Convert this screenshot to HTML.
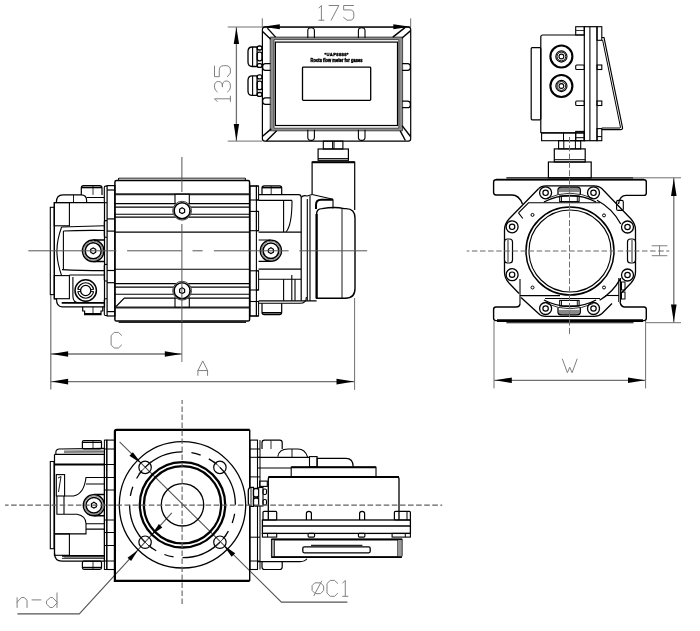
<!DOCTYPE html>
<html><head><meta charset="utf-8"><title>Roots flow meter drawing</title>
<style>html,body{margin:0;padding:0;background:#fff;width:700px;height:631px;overflow:hidden}svg{display:block}</style>
</head><body><svg width="700" height="631" viewBox="0 0 700 631"><line x1="262.3" y1="18.3" x2="262.3" y2="27" stroke="#707070" stroke-width="1" /><line x1="410.7" y1="18.3" x2="410.7" y2="27" stroke="#707070" stroke-width="1" /><line x1="262.3" y1="26.8" x2="410.7" y2="26.8" stroke="#707070" stroke-width="1.3" /><path d="M262.8,26.8 L279.8,29.3 L279.8,24.3 Z" fill="#000" stroke="none"/><path d="M410.3,26.8 L393.3,24.3 L393.3,29.3 Z" fill="#000" stroke="none"/><g transform="translate(316.5,5.5) scale(0.98)" fill="none" stroke="#808080" stroke-width="1.0" stroke-linecap="round" stroke-linejoin="round" style="vector-effect:non-scaling-stroke"><path transform="translate(0,0)" d="M2.5,2.5 L5,0 L5,15 M2.5,15 L7.5,15" vector-effect="non-scaling-stroke"/><path transform="translate(12.8,0)" d="M0,0 L10,0 L2.2,15" vector-effect="non-scaling-stroke"/><path transform="translate(27.7,0)" d="M10,0 L0,0 L0,4.5 L6.2,4.5 Q10.4,4.5 10.4,8.7 L10.4,10.8 Q10.4,15 6.2,15 L3.5,15 L0,12.2" vector-effect="non-scaling-stroke"/></g><line x1="227.7" y1="27" x2="262.3" y2="27" stroke="#707070" stroke-width="1" /><line x1="227.7" y1="141.1" x2="262.3" y2="141.1" stroke="#707070" stroke-width="1" /><line x1="236.4" y1="27" x2="236.4" y2="141.1" stroke="#707070" stroke-width="1.3" /><path d="M236.4,27.4 L233.7,44 L239.1,44 Z" fill="#000" stroke="none"/><path d="M236.4,140.7 L239.1,124.1 L233.7,124.1 Z" fill="#000" stroke="none"/><g transform="translate(214.5,104.1) rotate(-90) scale(1.06)" fill="none" stroke="#808080" stroke-width="1.0" stroke-linecap="round" stroke-linejoin="round" style="vector-effect:non-scaling-stroke"><path transform="translate(0,0)" d="M2.5,2.5 L5,0 L5,15 M2.5,15 L7.5,15" vector-effect="non-scaling-stroke"/><path transform="translate(11.5,0)" d="M0,2.6 Q1.5,0 4.5,0 L5.8,0 Q9.8,0 9.8,3.8 Q9.8,7.4 5.6,7.4 L4.8,7.4 M5.6,7.4 Q10.3,7.4 10.3,11.2 Q10.3,15 5.8,15 L4.5,15 Q1.5,15 0,12.4" vector-effect="non-scaling-stroke"/><path transform="translate(25.85,0)" d="M10,0 L0,0 L0,4.5 L6.2,4.5 Q10.4,4.5 10.4,8.7 L10.4,10.8 Q10.4,15 6.2,15 L3.5,15 L0,12.2" vector-effect="non-scaling-stroke"/></g><line x1="50.8" y1="294.6" x2="50.8" y2="389.6" stroke="#707070" stroke-width="1.2" /><line x1="181.9" y1="322" x2="181.9" y2="362" stroke="#707070" stroke-width="1" /><line x1="50.6" y1="354" x2="181.9" y2="354" stroke="#707070" stroke-width="1.3" /><path d="M51.6,354 L68.1,356.8 L68.1,351.2 Z" fill="#000" stroke="none"/><path d="M181.3,354 L164.8,351.2 L164.8,356.8 Z" fill="#000" stroke="none"/><g transform="translate(111.1,332.4) scale(1.04)" fill="none" stroke="#808080" stroke-width="1.0" stroke-linecap="round" stroke-linejoin="round" style="vector-effect:non-scaling-stroke"><path transform="translate(0,0)" d="M10,2.8 L7.1,0 L3.1,0 L0,3 L0,12 L3.1,15 L7.1,15 L10,12.2" vector-effect="non-scaling-stroke"/></g><line x1="354.6" y1="298" x2="354.6" y2="389.9" stroke="#707070" stroke-width="1" /><line x1="50.6" y1="381.6" x2="354.6" y2="381.6" stroke="#707070" stroke-width="1.3" /><path d="M51.6,381.6 L68.1,384.4 L68.1,378.8 Z" fill="#000" stroke="none"/><path d="M354,381.6 L336.5,378.8 L336.5,384.4 Z" fill="#000" stroke="none"/><g transform="translate(197.9,360.9) scale(0.967)" fill="none" stroke="#808080" stroke-width="1.0" stroke-linecap="round" stroke-linejoin="round" style="vector-effect:non-scaling-stroke"><path transform="translate(0,0)" d="M0,15 L0,10 L5,0 L10,10 L10,15 M0,10 L10,10" vector-effect="non-scaling-stroke"/></g><line x1="494" y1="321" x2="494" y2="388.4" stroke="#707070" stroke-width="1" /><line x1="645.6" y1="321" x2="645.6" y2="388.4" stroke="#707070" stroke-width="1" /><line x1="494" y1="380.3" x2="645.6" y2="380.3" stroke="#707070" stroke-width="1.3" /><path d="M494.8,380.3 L511.8,383.1 L511.8,377.5 Z" fill="#000" stroke="none"/><path d="M645,380.3 L628,377.5 L628,383.1 Z" fill="#000" stroke="none"/><g transform="translate(562.4,359.1) scale(0.907)" fill="none" stroke="#808080" stroke-width="1.0" stroke-linecap="round" stroke-linejoin="round" style="vector-effect:non-scaling-stroke"><path transform="translate(0,0)" d="M0,0 L5.5,15 L8.1,9 L10.7,15 L16.2,0" vector-effect="non-scaling-stroke"/></g><line x1="634" y1="177.8" x2="681" y2="177.8" stroke="#707070" stroke-width="1" /><line x1="646" y1="322.7" x2="681" y2="322.7" stroke="#707070" stroke-width="1" /><line x1="673.8" y1="177.8" x2="673.8" y2="322.7" stroke="#707070" stroke-width="1.3" /><path d="M673.8,178.4 L671,195.9 L676.6,195.9 Z" fill="#000" stroke="none"/><path d="M673.8,322.1 L676.6,304.6 L671,304.6 Z" fill="#000" stroke="none"/><g transform="translate(652.1,255.7) rotate(-90) scale(0.993)" fill="none" stroke="#808080" stroke-width="1.0" stroke-linecap="round" stroke-linejoin="round" style="vector-effect:non-scaling-stroke"><path transform="translate(0,0)" d="M0,0 L0,15 M10,0 L10,15 M0,7.5 L10,7.5" vector-effect="non-scaling-stroke"/></g><path d="M17.4,613.9 L79.3,613.9 L171.8,512.9" stroke="#555" stroke-width="1.1" fill="none" /><path d="M138.1,549.9 L127.54,557.86 L131.08,561.1 Z" fill="#000" stroke="none"/><path d="M151.4,534.9 L162.29,527.4 L158.9,524.01 Z" fill="#000" stroke="none"/><g transform="translate(17.1,592.9) scale(0.973)" fill="none" stroke="#808080" stroke-width="1.0" stroke-linecap="round" stroke-linejoin="round" style="vector-effect:non-scaling-stroke"><path transform="translate(0,0)" d="M0,5 L0,15 M0,9.5 L4.5,4.8 L7.2,4.8 L10.2,7.5 L10.2,15" vector-effect="non-scaling-stroke"/><path transform="translate(15.3,0)" d="M0,7.2 L9.2,7.2" vector-effect="non-scaling-stroke"/><path transform="translate(30.2,0)" d="M10.8,0 L10.8,15 M10.8,9.5 L6.3,4.7 L4,4.7 L0,8.3 L0,11.4 L3.7,15 L6.3,15 L10.8,10.4" vector-effect="non-scaling-stroke"/></g><path d="M119.6,441.9 L281.4,602.1 L347.4,602.1" stroke="#555" stroke-width="1.1" fill="none" /><path d="M141.3,463.6 L132.87,452.15 L129.43,455.77 Z" fill="#000" stroke="none"/><path d="M223.5,545.2 L231.63,556.87 L235.17,553.33 Z" fill="#000" stroke="none"/><g transform="translate(312.1,580.4) scale(1.06)" fill="none" stroke="#808080" stroke-width="1.0" stroke-linecap="round" stroke-linejoin="round" style="vector-effect:non-scaling-stroke"><path transform="translate(0,0)" d="M3,2.3 L7.9,2.3 L10.9,5.3 L10.9,9.5 L7.9,12.5 L3,12.5 L0,9.5 L0,5.3 Z M9,0.7 L1.7,14.4" vector-effect="non-scaling-stroke"/><path transform="translate(14.05,0)" d="M10,2.8 L7.1,0 L3.1,0 L0,3 L0,12 L3.1,15 L7.1,15 L10,12.2" vector-effect="non-scaling-stroke"/><path transform="translate(26.3,0)" d="M2.5,2.5 L5,0 L5,15 M2.5,15 L7.5,15" vector-effect="non-scaling-stroke"/></g><path d="M262.4,29.5 Q262.4,27.1 264.8,27.1 L408.3,27.1 Q410.7,27.1 410.7,29.5 L410.7,138.7 Q410.7,141.1 408.3,141.1 L264.8,141.1 Q262.4,141.1 262.4,138.7 Z" stroke="#000" stroke-width="1.2" fill="none" /><path d="M270.2,37.1 L402.6,37.1 L402.6,130.8 L270.2,130.8 Z M274,39.6 L398.8,39.6 L398.8,128.2 L274,128.2 Z" stroke="#3a3a3a" stroke-width="0.9" fill="#8c8c8c" fill-rule="evenodd"/><rect x="275.4" y="42.1" width="122.1" height="83.4" rx="0" stroke="#000" stroke-width="1.2" fill="none" /><line x1="262.6" y1="31.4" x2="270.7" y2="39.2" stroke="#000" stroke-width="1.4" /><line x1="267.4" y1="28.1" x2="275.6" y2="37.1" stroke="#000" stroke-width="1.4" /><line x1="392.8" y1="37.1" x2="405" y2="27.6" stroke="#000" stroke-width="1.4" /><line x1="401.8" y1="38.3" x2="410.4" y2="30.9" stroke="#000" stroke-width="1.4" /><line x1="262.6" y1="136.3" x2="271.2" y2="128.9" stroke="#000" stroke-width="1.4" /><line x1="266.4" y1="141.1" x2="276.6" y2="130.8" stroke="#000" stroke-width="1.4" /><line x1="402.1" y1="125.6" x2="410.5" y2="136.5" stroke="#000" stroke-width="1.4" /><line x1="400.2" y1="130.8" x2="405.4" y2="140.5" stroke="#000" stroke-width="1.4" /><path d="M307.8,38 L307.8,30.5 Q307.8,27.7 311.1,27.7 Q314.40000000000003,27.7 314.40000000000003,30.5 L314.40000000000003,38" stroke="#000" stroke-width="1.1" fill="none" /><path d="M307.8,129.8 L307.8,137.5 Q307.8,140.4 311.1,140.4 Q314.40000000000003,140.4 314.40000000000003,137.5 L314.40000000000003,129.8" stroke="#000" stroke-width="1.1" fill="none" /><path d="M358.4,38 L358.4,30.5 Q358.4,27.7 361.7,27.7 Q365.0,27.7 365.0,30.5 L365.0,38" stroke="#000" stroke-width="1.1" fill="none" /><path d="M358.4,129.8 L358.4,137.5 Q358.4,140.4 361.7,140.4 Q365.0,140.4 365.0,137.5 L365.0,129.8" stroke="#000" stroke-width="1.1" fill="none" /><path d="M270.5,63.7 L265.5,63.7 Q262.6,63.7 262.6,67.0 Q262.6,70.3 265.5,70.3 L270.5,70.3" stroke="#000" stroke-width="1.3" fill="none" /><path d="M270.5,97.8 L265.5,97.8 Q262.6,97.8 262.6,101.1 Q262.6,104.39999999999999 265.5,104.39999999999999 L270.5,104.39999999999999" stroke="#000" stroke-width="1.3" fill="none" /><path d="M402.2,63.7 L407.5,63.7 Q410.4,63.7 410.4,67.0 Q410.4,70.3 407.5,70.3 L402.2,70.3" stroke="#000" stroke-width="1.3" fill="none" /><path d="M402.2,101.1 L407.5,101.1 Q410.4,101.1 410.4,104.39999999999999 Q410.4,107.69999999999999 407.5,107.69999999999999 L402.2,107.69999999999999" stroke="#000" stroke-width="1.3" fill="none" /><path d="M257.1,47 L252.2,47 Q248,47 248,51.5 L248,62 Q248,66.5 252.2,66.5 L257.1,66.5 Z" stroke="#000" stroke-width="1.3" fill="none" /><line x1="252.6" y1="47" x2="252.6" y2="66.5" stroke="#000" stroke-width="1.1" /><rect x="257.2" y="46" width="4.8" height="4" rx="2" stroke="#000" stroke-width="1.3" fill="none" /><rect x="257.2" y="52.2" width="4.8" height="8.6" rx="2" stroke="#000" stroke-width="1.3" fill="none" /><rect x="257.2" y="63.6" width="4.8" height="3.8" rx="2" stroke="#000" stroke-width="1.3" fill="none" /><path d="M257.1,75.9 L252.2,75.9 Q248,75.9 248,80.4 L248,90.9 Q248,95.4 252.2,95.4 L257.1,95.4 Z" stroke="#000" stroke-width="1.3" fill="none" /><line x1="252.6" y1="75.9" x2="252.6" y2="95.4" stroke="#000" stroke-width="1.1" /><rect x="257.2" y="74.9" width="4.8" height="4" rx="2" stroke="#000" stroke-width="1.3" fill="none" /><rect x="257.2" y="81.1" width="4.8" height="8.6" rx="2" stroke="#000" stroke-width="1.3" fill="none" /><rect x="257.2" y="92.5" width="4.8" height="3.8" rx="2" stroke="#000" stroke-width="1.3" fill="none" /><rect x="302.5" y="67.1" width="68.2" height="33.2" rx="0.8" stroke="#000" stroke-width="1.3" fill="none" /><defs><filter id="nf" x="0" y="0" width="1" height="1"><feOffset dx="0" dy="0"/></filter></defs><g filter="url(#nf)"><text x="336.5" y="55.6" font-family="Liberation Sans" font-weight="bold" font-size="4.2" text-anchor="middle" fill="#000" stroke="#000" stroke-width="0.35" textLength="24">*UAP8888*</text><text x="336.5" y="61.8" font-family="Liberation Sans" font-weight="bold" font-size="4.6" text-anchor="middle" fill="#000" stroke="#000" stroke-width="0.4" textLength="52" lengthAdjust="spacingAndGlyphs">Roots flow meter for gases</text></g><rect x="323.3" y="141.1" width="19.6" height="7.9" rx="0" stroke="#000" stroke-width="1.1" fill="none" /><line x1="332.6" y1="141.1" x2="332.6" y2="149" stroke="#000" stroke-width="1" /><line x1="334" y1="141.1" x2="334" y2="149" stroke="#000" stroke-width="1" /><rect x="318.1" y="149" width="30.3" height="11.3" rx="0" stroke="#000" stroke-width="1.2" fill="none" /><line x1="318.1" y1="158.6" x2="348.4" y2="158.6" stroke="#000" stroke-width="1" /><path d="M312.1,194.5 L312.1,162.2 L354.7,162.2 L354.7,210" stroke="#000" stroke-width="1.2" fill="none" /><line x1="312.1" y1="162.2" x2="354.7" y2="162.2" stroke="#000" stroke-width="2" /><path d="M114.9,182.2 Q114.9,180.6 116.5,180.6 L248,180.6 Q249.6,180.6 249.6,182.2 L249.6,319.4 Q249.6,321 248,321 L116.5,321 Q114.9,321 114.9,319.4 Z" stroke="#000" stroke-width="1.5" fill="none" /><line x1="118.8" y1="178.4" x2="245.3" y2="178.4" stroke="#6a6a6a" stroke-width="1.6" /><path d="M118.6,180.6 L118.6,178 M245.3,178 L245.3,180.6" stroke="#000" stroke-width="1" fill="none" /><line x1="114.9" y1="194.3" x2="249.6" y2="194.3" stroke="#222" stroke-width="2" /><line x1="114.9" y1="203.6" x2="249.6" y2="203.6" stroke="#000" stroke-width="1.1" /><line x1="114.9" y1="207.1" x2="249.6" y2="207.1" stroke="#000" stroke-width="1.1" /><line x1="114.9" y1="214.3" x2="249.6" y2="214.3" stroke="#000" stroke-width="1.1" /><line x1="114.9" y1="217.1" x2="249.6" y2="217.1" stroke="#000" stroke-width="1.1" /><line x1="114.9" y1="232.1" x2="249.6" y2="232.1" stroke="#000" stroke-width="1.1" /><line x1="114.9" y1="269.3" x2="249.6" y2="269.3" stroke="#000" stroke-width="1.1" /><line x1="114.9" y1="283.6" x2="249.6" y2="283.6" stroke="#000" stroke-width="1.1" /><line x1="114.9" y1="287.1" x2="249.6" y2="287.1" stroke="#000" stroke-width="1.1" /><line x1="114.9" y1="294.3" x2="249.6" y2="294.3" stroke="#000" stroke-width="1.1" /><path d="M115.1,307.5 L124.3,298.2 L249.6,298.2" stroke="#000" stroke-width="1.2" fill="none" /><line x1="114.9" y1="307.4" x2="249.6" y2="307.4" stroke="#222" stroke-width="2" /><line x1="118.6" y1="322" x2="246" y2="322" stroke="#222" stroke-width="2.2" /><rect x="175" y="194.3" width="14.3" height="9.3" rx="0" stroke="#000" stroke-width="1.1" fill="#fff" /><rect x="175" y="298.1" width="14.3" height="9" rx="0" stroke="#000" stroke-width="1.1" fill="#fff" /><circle cx="182.1" cy="210.7" r="9.4" stroke="#444" stroke-width="1.0" fill="#fff" /><circle cx="182.1" cy="210.7" r="8" stroke="#000" stroke-width="1.6" fill="none" /><path d="M184.61,212.15 L182.1,213.6 L179.59,212.15 L179.59,209.25 L182.1,207.8 L184.61,209.25 Z" stroke="#000" stroke-width="1.2" fill="none" /><circle cx="182.1" cy="290.7" r="9.4" stroke="#444" stroke-width="1.0" fill="#fff" /><circle cx="182.1" cy="290.7" r="8" stroke="#000" stroke-width="1.6" fill="none" /><path d="M184.61,292.15 L182.1,293.6 L179.59,292.15 L179.59,289.25 L182.1,287.8 L184.61,289.25 Z" stroke="#000" stroke-width="1.2" fill="none" /><rect x="107.1" y="185.6" width="7.8" height="130.4" rx="0" stroke="#000" stroke-width="1.2" fill="none" /><path d="M107.1,186.1 L105.5,186.1 Q104.3,186.1 104.3,187.29999999999998 L104.3,201.60000000000002 Q104.3,202.8 105.5,202.8 L107.1,202.8" stroke="#000" stroke-width="1.1" fill="none" /><path d="M107.1,220.6 L105.5,220.6 Q104.3,220.6 104.3,221.79999999999998 L104.3,236.0 Q104.3,237.2 105.5,237.2 L107.1,237.2" stroke="#000" stroke-width="1.1" fill="none" /><path d="M107.1,264.4 L105.5,264.4 Q104.3,264.4 104.3,265.59999999999997 L104.3,279.8 Q104.3,281 105.5,281 L107.1,281" stroke="#000" stroke-width="1.1" fill="none" /><path d="M107.1,298.8 L105.5,298.8 Q104.3,298.8 104.3,300.0 L104.3,314.3 Q104.3,315.5 105.5,315.5 L107.1,315.5" stroke="#000" stroke-width="1.1" fill="none" /><line x1="107.1" y1="190" x2="114.9" y2="190" stroke="#000" stroke-width="1.2" /><line x1="107.1" y1="218.9" x2="114.9" y2="218.9" stroke="#000" stroke-width="1.2" /><line x1="107.1" y1="231.1" x2="114.9" y2="231.1" stroke="#000" stroke-width="1.2" /><line x1="107.1" y1="270.5" x2="114.9" y2="270.5" stroke="#000" stroke-width="1.2" /><line x1="107.1" y1="282.7" x2="114.9" y2="282.7" stroke="#000" stroke-width="1.2" /><line x1="107.1" y1="311.6" x2="114.9" y2="311.6" stroke="#000" stroke-width="1.2" /><rect x="250" y="186" width="6.4" height="130" rx="0" stroke="#000" stroke-width="1.1" fill="none" /><rect x="256.4" y="186" width="2.2" height="14" rx="0" stroke="#000" stroke-width="1" fill="none" /><line x1="250" y1="186" x2="258.6" y2="186" stroke="#000" stroke-width="1.1" /><line x1="250" y1="200" x2="258.6" y2="200" stroke="#000" stroke-width="1.1" /><rect x="256.4" y="211.4" width="2.2" height="19.3" rx="0" stroke="#000" stroke-width="1" fill="none" /><line x1="250" y1="211.4" x2="258.6" y2="211.4" stroke="#000" stroke-width="1.1" /><line x1="250" y1="230.7" x2="258.6" y2="230.7" stroke="#000" stroke-width="1.1" /><rect x="256.4" y="270.8" width="2.2" height="19.2" rx="0" stroke="#000" stroke-width="1" fill="none" /><line x1="250" y1="270.8" x2="258.6" y2="270.8" stroke="#000" stroke-width="1.1" /><line x1="250" y1="290" x2="258.6" y2="290" stroke="#000" stroke-width="1.1" /><rect x="256.4" y="301.5" width="2.2" height="14.5" rx="0" stroke="#000" stroke-width="1" fill="none" /><line x1="250" y1="301.5" x2="258.6" y2="301.5" stroke="#000" stroke-width="1.1" /><line x1="250" y1="316" x2="258.6" y2="316" stroke="#000" stroke-width="1.1" /><rect x="50.3" y="207.3" width="4" height="87.3" rx="0" stroke="#000" stroke-width="1.1" fill="none" /><path d="M54.3,202.6 L104.5,202.6 L104.5,306.8 L62,306.8 Q56.5,306.8 56.5,299 L54.3,299 Z" stroke="#000" stroke-width="1.2" fill="none" /><path d="M56.3,202.6 Q56.3,194.9 63,194.9 L81,194.9 Q86.6,194.9 86.6,200.5 L86.6,202.6" stroke="#000" stroke-width="1.2" fill="none" /><line x1="73.5" y1="194.9" x2="73.5" y2="202.6" stroke="#000" stroke-width="0.9" /><path d="M81.3,194.9 L81.3,188 Q81.3,185.7 83.6,185.7 L99.7,185.7 Q102,185.7 102,188 L102,194.9" stroke="#000" stroke-width="1.2" fill="none" /><line x1="81.3" y1="187.5" x2="102" y2="187.5" stroke="#000" stroke-width="1.6" /><line x1="93" y1="186" x2="93" y2="194.9" stroke="#000" stroke-width="0.8" /><line x1="86.6" y1="197.5" x2="104.5" y2="197.5" stroke="#000" stroke-width="1" /><path d="M82.7,306.8 L82.7,311 L84.6,311 L84.6,314.7 L101,314.7 L101,311 L102.8,311 L102.8,306.8" stroke="#000" stroke-width="1.2" fill="none" /><line x1="84.6" y1="313.8" x2="101" y2="313.8" stroke="#000" stroke-width="1.6" /><line x1="93" y1="306.8" x2="93" y2="314.7" stroke="#000" stroke-width="0.8" /><line x1="61.7" y1="302.8" x2="104.5" y2="302.8" stroke="#000" stroke-width="1.8" /><rect x="54.3" y="202.6" width="15.1" height="23.2" rx="0" stroke="#000" stroke-width="1.1" fill="none" /><rect x="54.3" y="275.6" width="15.1" height="23.1" rx="0" stroke="#000" stroke-width="1.1" fill="none" /><path d="M61.6,227 L104.4,225.8" stroke="#000" stroke-width="1.1" fill="none" /><path d="M63.4,231 Q80,230.2 104.4,230.5" stroke="#000" stroke-width="1.1" fill="none" /><path d="M62,269.6 Q80,270.6 104.4,270.6" stroke="#000" stroke-width="1.1" fill="none" /><line x1="69.4" y1="275" x2="104.4" y2="275" stroke="#000" stroke-width="1.1" /><line x1="63.4" y1="231" x2="63.4" y2="269.6" stroke="#000" stroke-width="1.1" /><path d="M61.6,227 Q56.9,240 56.9,251 Q56.9,262 61.6,275.6" stroke="#000" stroke-width="1.1" fill="none" /><path d="M104.4,240 L93,240 M104.4,261.5 L93,261.5" stroke="#000" stroke-width="1.6" fill="none" /><circle cx="93.2" cy="250.8" r="10.8" stroke="#000" stroke-width="1.4" fill="#fff" /><circle cx="93.2" cy="250.8" r="9.6" stroke="#555" stroke-width="0.8" fill="none" /><circle cx="93.2" cy="250.8" r="8" stroke="#000" stroke-width="1.5" fill="none" /><path d="M95.71,252.25 L93.2,253.7 L90.69,252.25 L90.69,249.35 L93.2,247.9 L95.71,249.35 Z" stroke="#000" stroke-width="1.2" fill="none" /><circle cx="85.7" cy="290.5" r="10.7" stroke="#000" stroke-width="1.5" fill="#fff" /><circle cx="85.7" cy="290.5" r="5.1" stroke="#000" stroke-width="1.3" fill="none" /><path d="M77.8,289.5 A8,8 0 0 1 93.6,289.5 M77.8,291.5 A8,8 0 0 0 93.6,291.5" stroke="#000" stroke-width="1.2" fill="none" /><path d="M77.8,289.5 L80.7,289.5 M77.8,291.5 L80.7,291.5 M93.6,289.5 L90.7,289.5 M93.6,291.5 L90.7,291.5" stroke="#000" stroke-width="0.9" fill="none" /><path d="M72.9,277 L72.9,296 Q72.9,302.8 79,302.8" stroke="#000" stroke-width="1.1" fill="none" /><path d="M258.6,194.7 L298.5,194.7 Q301.2,194.7 301.2,197.5 L301.2,300.8" stroke="#000" stroke-width="1.2" fill="none" /><line x1="258.6" y1="300.8" x2="316.6" y2="300.8" stroke="#000" stroke-width="1.2" /><line x1="258.6" y1="200.4" x2="292" y2="200.4" stroke="#000" stroke-width="1.1" /><path d="M283.6,200.4 L283.6,232 M292,200.4 Q292,225 286,232" stroke="#000" stroke-width="1.1" fill="none" /><line x1="258.6" y1="232.1" x2="301.2" y2="232.1" stroke="#000" stroke-width="1.1" /><line x1="258.6" y1="269.1" x2="301.2" y2="269.1" stroke="#000" stroke-width="1.1" /><line x1="258.6" y1="279.2" x2="301.2" y2="279.2" stroke="#000" stroke-width="1.1" /><path d="M283.6,279.2 L283.6,300.8 M295,279.2 L295,300.8 M291.8,275 L291.8,300.8" stroke="#000" stroke-width="1.1" fill="none" /><line x1="307.3" y1="199" x2="307.3" y2="300.8" stroke="#000" stroke-width="1.1" /><line x1="310" y1="196" x2="310" y2="300.8" stroke="#000" stroke-width="1.1" /><path d="M301.2,197.5 Q303,194.7 307.3,196 L312.1,194.5" stroke="#000" stroke-width="1.1" fill="none" /><path d="M262,194.7 L262,188 Q262,185.8 264.2,185.8 L279.5,185.8 Q281.7,185.8 281.7,188 L281.7,194.7" stroke="#000" stroke-width="1.2" fill="none" /><line x1="262" y1="187.6" x2="281.7" y2="187.6" stroke="#000" stroke-width="1.6" /><line x1="271.2" y1="186" x2="271.2" y2="194.7" stroke="#000" stroke-width="0.8" /><path d="M262,303.3 L262,312.3 Q262,314.6 264.2,314.6 L279.5,314.6 Q281.7,314.6 281.7,312.3 L281.7,303.3" stroke="#000" stroke-width="1.2" fill="none" /><line x1="262" y1="312.8" x2="281.7" y2="312.8" stroke="#000" stroke-width="1.6" /><path d="M258.6,303.3 L300,303.3 Q306.4,303.3 306.4,297" stroke="#000" stroke-width="1.1" fill="none" /><circle cx="270.9" cy="250.7" r="10.6" stroke="#000" stroke-width="1.4" fill="#fff" /><circle cx="270.9" cy="250.7" r="9.4" stroke="#555" stroke-width="0.8" fill="none" /><circle cx="270.9" cy="250.7" r="7.8" stroke="#000" stroke-width="1.5" fill="none" /><path d="M273.41,252.15 L270.9,253.6 L268.39,252.15 L268.39,249.25 L270.9,247.8 L273.41,249.25 Z" stroke="#000" stroke-width="1.2" fill="none" /><path d="M258.6,240 L270.9,240 M258.6,261.4 L270.9,261.4" stroke="#000" stroke-width="1.1" fill="none" /><path d="M316.6,298.3 L316.6,214 Q316.6,208.6 322,208.6 Q335,206.5 344,208.6 L346,208.6 Q355,208.6 355,218 L355,288.5 Q355,298.3 345.2,298.3 Z" stroke="#000" stroke-width="1.4" fill="#fff" /><line x1="316.6" y1="214" x2="316.6" y2="298.3" stroke="#000" stroke-width="2.2" /><line x1="312.1" y1="194.5" x2="333" y2="199.3" stroke="#000" stroke-width="1.1" /><line x1="333" y1="199.3" x2="333" y2="208.6" stroke="#000" stroke-width="1.1" /><path d="M316,209 L316,205 Q316,199.8 321,199.8 L333,199.8" stroke="#000" stroke-width="2" fill="none" /><line x1="342" y1="208.6" x2="342" y2="298.3" stroke="#000" stroke-width="0.9" /><rect x="531.2" y="47.7" width="9.6" height="72.1" rx="1" stroke="#000" stroke-width="1.2" fill="none" /><path d="M540.8,37 Q540.8,35 542.8,35 L584.3,35 M584.3,132.9 L540.8,132.9 Z M540.8,37 L540.8,132.9" stroke="#000" stroke-width="1.2" fill="none" /><rect x="584.3" y="26.7" width="12.7" height="114" rx="0" stroke="#000" stroke-width="1.2" fill="none" /><line x1="589.9" y1="26.7" x2="589.9" y2="140.7" stroke="#000" stroke-width="1.1" /><rect x="575.7" y="26.7" width="8.6" height="8.3" rx="0" stroke="#000" stroke-width="1.1" fill="none" /><line x1="575.7" y1="30.5" x2="584.3" y2="30.5" stroke="#000" stroke-width="0.8" /><rect x="597" y="26.7" width="4.8" height="13.6" rx="0" stroke="#000" stroke-width="1.1" fill="none" /><rect x="575.7" y="131.4" width="8.6" height="9.3" rx="0" stroke="#000" stroke-width="1.1" fill="none" /><line x1="575.7" y1="137.7" x2="584.3" y2="137.7" stroke="#000" stroke-width="1" /><rect x="597" y="128.6" width="4.8" height="12.1" rx="0" stroke="#000" stroke-width="1.1" fill="none" /><line x1="597" y1="136.6" x2="601.8" y2="136.6" stroke="#000" stroke-width="1" /><rect x="575.7" y="65" width="8.6" height="4.5" rx="1" stroke="#000" stroke-width="1.1" fill="none" /><rect x="597" y="65" width="4.8" height="4.5" rx="0" stroke="#000" stroke-width="1.1" fill="none" /><rect x="575.7" y="101" width="8.6" height="4.5" rx="1" stroke="#000" stroke-width="1.1" fill="none" /><rect x="597" y="101" width="4.8" height="4.5" rx="0" stroke="#000" stroke-width="1.1" fill="none" /><path d="M601.8,37.5 L604,37.5 L622.5,127.5 Q622.8,129.6 620.5,129.6 L601.8,129.6" stroke="#000" stroke-width="1.2" fill="none" /><line x1="602.6" y1="40" x2="620.6" y2="127.8" stroke="#000" stroke-width="1" /><line x1="601.8" y1="128" x2="620" y2="128" stroke="#000" stroke-width="1" /><circle cx="561.4" cy="56.5" r="11" stroke="#000" stroke-width="2.1" fill="none" /><circle cx="561.4" cy="56.5" r="5.6" stroke="#000" stroke-width="1.1" fill="none" /><circle cx="561.4" cy="56.5" r="4.4" stroke="#000" stroke-width="1" fill="none" /><circle cx="561.4" cy="56.5" r="2.4" stroke="#000" stroke-width="1.1" fill="none" /><circle cx="561.4" cy="86" r="11" stroke="#000" stroke-width="2.1" fill="none" /><circle cx="561.4" cy="86" r="5.6" stroke="#000" stroke-width="1.1" fill="none" /><circle cx="561.4" cy="86" r="4.4" stroke="#000" stroke-width="1" fill="none" /><circle cx="561.4" cy="86" r="2.4" stroke="#000" stroke-width="1.1" fill="none" /><rect x="541.6" y="132.9" width="42.7" height="7.8" rx="0" stroke="#000" stroke-width="1.1" fill="none" /><line x1="563.5" y1="132.9" x2="563.5" y2="140.7" stroke="#000" stroke-width="1" /><line x1="575.7" y1="132.9" x2="575.7" y2="140.7" stroke="#000" stroke-width="1" /><rect x="558.6" y="140.7" width="22.1" height="8.2" rx="0" stroke="#000" stroke-width="1.1" fill="none" /><line x1="563.8" y1="140.7" x2="563.8" y2="148.9" stroke="#000" stroke-width="1" /><line x1="575.4" y1="140.7" x2="575.4" y2="148.9" stroke="#000" stroke-width="1" /><rect x="554.3" y="148.9" width="30.9" height="13.1" rx="0" stroke="#000" stroke-width="1.2" fill="none" /><line x1="554.3" y1="159.7" x2="585.2" y2="159.7" stroke="#000" stroke-width="1" /><rect x="548.4" y="162" width="42.8" height="15.9" rx="0" stroke="#000" stroke-width="1.2" fill="none" /><path d="M506.4,177.8 L633.5,177.8" stroke="#000" stroke-width="1.2" fill="none" /><path d="M496,179.7 L644,179.7 Q646.3,179.7 646.3,182 L646.3,193 Q646.3,195.4 644,195.4 L626,195.4 Q620,195.4 618.5,204 M496,179.7 Q493.6,179.7 493.6,182 L493.6,192.6 Q493.6,195 496,195 L512,195 Q519,195 522.5,204" stroke="#000" stroke-width="1.4" fill="none" /><line x1="496" y1="179.5" x2="644" y2="179.5" stroke="#000" stroke-width="1.5" /><path d="M496,307 Q493.6,307 493.6,309.4 L493.6,318.3 Q493.6,320.6 496,320.6 L644,320.6 Q646.3,320.6 646.3,318.3 L646.3,309.4 Q646.3,307 644,307 L625,307 Q621,307 620,302 M496,307 L516,307 Q520,307 520,303.5" stroke="#000" stroke-width="1.4" fill="none" /><line x1="497" y1="320.6" x2="643" y2="320.6" stroke="#000" stroke-width="2.6" /><line x1="506.4" y1="322.7" x2="633.5" y2="322.7" stroke="#000" stroke-width="1.1" /><path d="M538.5,188.8 Q541,185.8 546,185.8 L594,185.8 Q599,185.8 602,188.8 L631,219 Q635.5,224 635.5,230 L635.5,272 Q635.5,278 631,283 L622,292.5" stroke="#000" stroke-width="1.3" fill="none" /><path d="M538.5,188.8 L509,219 Q504.5,224 504.5,230 L504.5,272 Q504.5,278 509,283 L519,293.5" stroke="#000" stroke-width="1.3" fill="none" /><path d="M521,297.5 L538.5,313.5 Q541,316.3 546,316.3 L594,316.3 Q599,316.3 602,313.5 L612,303.5" stroke="#000" stroke-width="1.3" fill="none" /><path d="M518.5,212.8 L528.5,202.8 L600,202.8 M518.5,212.8 L522.8,218.5" stroke="#000" stroke-width="1.1" fill="none" /><path d="M620.77,224.01 A57.5,57.5 0 0 0 596.99,200.23" stroke="#000" stroke-width="1.3" fill="none" /><path d="M599.61,300.29 A57.5,57.5 0 0 0 620.29,278.88" stroke="#000" stroke-width="1.3" fill="none" /><line x1="520" y1="279" x2="520" y2="303.5" stroke="#000" stroke-width="1.1" /><line x1="520" y1="295.6" x2="560" y2="295.6" stroke="#000" stroke-width="1.1" /><line x1="545" y1="298.5" x2="600" y2="298.5" stroke="#000" stroke-width="1.1" /><line x1="618.8" y1="278" x2="618.8" y2="302" stroke="#000" stroke-width="1.1" /><line x1="620.5" y1="278" x2="620.5" y2="302" stroke="#000" stroke-width="1.1" /><line x1="605.5" y1="295.5" x2="618.8" y2="295.5" stroke="#000" stroke-width="1.1" /><rect x="616.6" y="200.4" width="6.7" height="10" rx="1.5" stroke="#000" stroke-width="1.1" fill="none" /><circle cx="570" cy="251" r="44" stroke="#000" stroke-width="1.5" fill="none" /><circle cx="570" cy="251" r="41" stroke="#000" stroke-width="1.1" fill="none" /><circle cx="545.6" cy="192.8" r="6" stroke="#000" stroke-width="1.3" fill="#fff" /><circle cx="545.6" cy="192.8" r="2.7" stroke="#000" stroke-width="1.2" fill="none" /><circle cx="593.5" cy="192.8" r="6" stroke="#000" stroke-width="1.3" fill="#fff" /><circle cx="593.5" cy="192.8" r="2.7" stroke="#000" stroke-width="1.2" fill="none" /><circle cx="512.1" cy="226.8" r="6" stroke="#000" stroke-width="1.3" fill="#fff" /><circle cx="512.1" cy="226.8" r="2.7" stroke="#000" stroke-width="1.2" fill="none" /><circle cx="627.5" cy="227" r="6" stroke="#000" stroke-width="1.3" fill="#fff" /><circle cx="627.5" cy="227" r="2.7" stroke="#000" stroke-width="1.2" fill="none" /><circle cx="512.1" cy="274.7" r="6" stroke="#000" stroke-width="1.3" fill="#fff" /><circle cx="512.1" cy="274.7" r="2.7" stroke="#000" stroke-width="1.2" fill="none" /><circle cx="627.5" cy="275" r="6" stroke="#000" stroke-width="1.3" fill="#fff" /><circle cx="627.5" cy="275" r="2.7" stroke="#000" stroke-width="1.2" fill="none" /><circle cx="545.6" cy="308.5" r="6" stroke="#000" stroke-width="1.3" fill="#fff" /><circle cx="545.6" cy="308.5" r="2.7" stroke="#000" stroke-width="1.2" fill="none" /><circle cx="593.5" cy="308.5" r="6" stroke="#000" stroke-width="1.3" fill="#fff" /><circle cx="593.5" cy="308.5" r="2.7" stroke="#000" stroke-width="1.2" fill="none" /><circle cx="532.5" cy="214.9" r="1.5" stroke="#000" stroke-width="1" fill="none" /><circle cx="604" cy="215.4" r="1.5" stroke="#000" stroke-width="1" fill="none" /><circle cx="532.5" cy="287.5" r="1.5" stroke="#000" stroke-width="1" fill="none" /><circle cx="604" cy="287.5" r="1.5" stroke="#000" stroke-width="1" fill="none" /><path d="M596.06,202 A55.5,55.5 0 0 0 543.94,202" stroke="#000" stroke-width="1.3" fill="none" /><path d="M543.94,300 A55.5,55.5 0 0 0 596.06,300" stroke="#000" stroke-width="1.3" fill="none" /><path d="M593.39,198.47 A57.5,57.5 0 0 0 546.61,198.47" stroke="#000" stroke-width="0.8" fill="none" /><path d="M546.61,303.53 A57.5,57.5 0 0 0 593.39,303.53" stroke="#000" stroke-width="0.8" fill="none" /><rect x="559" y="187.6" width="20.5" height="4.5" fill="#888"/><path d="M558,194.5 L558,190 Q558,187.1 561.4,187.1 L577,187.1 Q580.3,187.1 580.3,190 L580.3,194.5" stroke="#000" stroke-width="1.3" fill="none" /><rect x="559.7" y="196" width="19.4" height="5.6" rx="0" stroke="#000" stroke-width="1.1" fill="none" /><line x1="561.5" y1="196" x2="561.5" y2="201.6" stroke="#000" stroke-width="0.9" /><line x1="577.3" y1="196" x2="577.3" y2="201.6" stroke="#000" stroke-width="0.9" /><rect x="559" y="309.9" width="20.5" height="4.5" fill="#888"/><path d="M558,307.5 L558,312 Q558,314.9 561.4,314.9 L577,314.9 Q580.3,314.9 580.3,312 L580.3,307.5" stroke="#000" stroke-width="1.3" fill="none" /><rect x="559.7" y="300.4" width="19.4" height="5.6" rx="0" stroke="#000" stroke-width="1.1" fill="none" /><line x1="561.5" y1="300.4" x2="561.5" y2="306" stroke="#000" stroke-width="0.9" /><line x1="577.3" y1="300.4" x2="577.3" y2="306" stroke="#000" stroke-width="0.9" /><rect x="504.5" y="239" width="8" height="24" rx="3" stroke="#000" stroke-width="1.2" fill="#fff" /><line x1="508" y1="240" x2="508" y2="262" stroke="#777" stroke-width="1.6" /><rect x="627.5" y="239" width="8" height="24" rx="3" stroke="#000" stroke-width="1.2" fill="#fff" /><line x1="632" y1="240" x2="632" y2="262" stroke="#777" stroke-width="1.6" /><rect x="621.5" y="282" width="3.5" height="8" rx="0" stroke="#000" stroke-width="1" fill="none" /><rect x="621.5" y="292" width="3.5" height="7" rx="0" stroke="#000" stroke-width="1" fill="none" /><path d="M249.7,429.8 L116.6,429.8 Q114.9,429.8 114.9,431.5 L114.9,580.9 L249.7,580.9" stroke="#000" stroke-width="2.2" fill="none" /><line x1="249.7" y1="429.8" x2="249.7" y2="580.9" stroke="#000" stroke-width="1.4" /><circle cx="182.5" cy="504.8" r="63.2" stroke="#000" stroke-width="1.3" fill="none" /><circle cx="182.5" cy="504.8" r="42.7" stroke="#000" stroke-width="2.3" fill="none" /><circle cx="182.5" cy="504.8" r="38.6" stroke="#000" stroke-width="2.3" fill="none" /><circle cx="182.5" cy="504.8" r="21.2" stroke="#000" stroke-width="1.3" fill="none" /><path d="M235.4,504.8 A52.9,52.9 0 0 0 219.91,467.39" stroke="#000" stroke-width="1.3" fill="none" /><path d="M219.91,467.39 A52.9,52.9 0 0 0 182.5,451.9" stroke="#000" stroke-width="1.3" fill="none" stroke-dasharray="0 4.5 9.5 4.5"/><path d="M182.5,451.9 A52.9,52.9 0 0 0 145.09,467.39" stroke="#000" stroke-width="1.3" fill="none" /><path d="M145.09,467.39 A52.9,52.9 0 0 0 129.6,504.8" stroke="#000" stroke-width="1.3" fill="none" stroke-dasharray="0 4.5 9.5 4.5"/><path d="M129.6,504.8 A52.9,52.9 0 0 0 145.09,542.21" stroke="#000" stroke-width="1.3" fill="none" /><path d="M145.09,542.21 A52.9,52.9 0 0 0 182.5,557.7" stroke="#000" stroke-width="1.3" fill="none" stroke-dasharray="0 4.5 9.5 4.5"/><path d="M182.5,557.7 A52.9,52.9 0 0 0 219.91,542.21" stroke="#000" stroke-width="1.3" fill="none" /><path d="M219.91,542.21 A52.9,52.9 0 0 0 235.4,504.8" stroke="#000" stroke-width="1.3" fill="none" stroke-dasharray="0 4.5 9.5 4.5"/><circle cx="219.91" cy="467.39" r="6.2" stroke="#000" stroke-width="1.2" fill="none" /><line x1="226.27" y1="473.76" x2="213.54" y2="461.03" stroke="#222" stroke-width="0.9" /><circle cx="145.09" cy="467.39" r="6.2" stroke="#000" stroke-width="1.2" fill="none" /><line x1="151.46" y1="461.03" x2="138.73" y2="473.76" stroke="#222" stroke-width="0.9" /><circle cx="145.09" cy="542.21" r="6.2" stroke="#000" stroke-width="1.2" fill="none" /><line x1="138.73" y1="535.84" x2="151.46" y2="548.57" stroke="#222" stroke-width="0.9" /><circle cx="219.91" cy="542.21" r="6.2" stroke="#000" stroke-width="1.2" fill="none" /><line x1="213.54" y1="548.57" x2="226.27" y2="535.84" stroke="#222" stroke-width="0.9" /><rect x="50.3" y="461.5" width="3.7" height="87.2" rx="0" stroke="#000" stroke-width="1.1" fill="none" /><path d="M54.5,454.4 L104.4,454.4 M54.5,454.4 L54.5,555.9 M104.4,448.4 L104.4,561.2" stroke="#000" stroke-width="1.2" fill="none" /><path d="M56,454.4 Q55,449.5 59,449 L104.4,448.4" stroke="#000" stroke-width="1.1" fill="none" /><path d="M54.5,553 Q54.5,561.2 62,561.2 L104.4,561.2" stroke="#000" stroke-width="1.2" fill="none" /><line x1="54.5" y1="464.5" x2="104.4" y2="464.5" stroke="#000" stroke-width="2" /><path d="M64,450.2 L104,449.6 L104,453.8 L64,453.8 Z" fill="#a8a8a8"/><line x1="64" y1="452" x2="104" y2="451.6" stroke="#555" stroke-width="0.8" /><rect x="64" y="556.6" width="40" height="1.4" fill="#a8a8a8"/><line x1="62" y1="555.9" x2="104.4" y2="555.9" stroke="#000" stroke-width="1.8" /><line x1="62" y1="558.3" x2="104.4" y2="558.3" stroke="#000" stroke-width="0.9" /><rect x="82.4" y="440.5" width="19.1" height="8.5" rx="1.5" stroke="#000" stroke-width="1.2" fill="none" /><line x1="93" y1="440.5" x2="93" y2="449" stroke="#000" stroke-width="0.8" /><line x1="82.4" y1="442.3" x2="101.5" y2="442.3" stroke="#000" stroke-width="1.4" /><rect x="82.4" y="561.2" width="19.1" height="8.1" rx="1.5" stroke="#000" stroke-width="1.2" fill="none" /><line x1="93" y1="561.2" x2="93" y2="569.3" stroke="#000" stroke-width="0.8" /><line x1="82.4" y1="567.5" x2="101.5" y2="567.5" stroke="#000" stroke-width="1.4" /><rect x="56.3" y="474.6" width="8.3" height="21.4" rx="0" stroke="#000" stroke-width="1.1" fill="none" /><path d="M64.6,496 L73.5,496 Q84,494 86,477.5 L104.4,477.5 M86,484 L104.4,484" stroke="#000" stroke-width="1.1" fill="none" /><path d="M56.9,496 L56.9,514.3 L77.1,514.3 Q86,516 86,523.8 L86,533.9 L54.5,533.9 M86,523.8 L104.4,523.8 M86,529.1 L104.4,529.1 M64,496 L64,514.3" stroke="#000" stroke-width="1.1" fill="none" /><rect x="54.5" y="533.9" width="14.9" height="21.4" rx="0" stroke="#000" stroke-width="1.1" fill="none" /><path d="M58,478 L61,476.5 L58.5,492" stroke="#000" stroke-width="0.9" fill="none" /><path d="M93.9,494.6 L104.4,494.6 M93.9,515.8 L104.4,515.8" stroke="#000" stroke-width="1.5" fill="none" /><circle cx="93.9" cy="505.2" r="10.6" stroke="#000" stroke-width="1.4" fill="#fff" /><circle cx="93.9" cy="505.2" r="9.4" stroke="#555" stroke-width="0.8" fill="none" /><circle cx="93.9" cy="505.2" r="7.8" stroke="#000" stroke-width="1.5" fill="none" /><path d="M96.41,506.65 L93.9,508.1 L91.39,506.65 L91.39,503.75 L93.9,502.3 L96.41,503.75 Z" stroke="#000" stroke-width="1.2" fill="none" /><rect x="106.8" y="440.1" width="7.8" height="129.4" rx="0" stroke="#000" stroke-width="1.1" fill="none" /><rect x="104.4" y="440.1" width="2.4" height="129.4" rx="0" stroke="#000" stroke-width="1" fill="none" /><line x1="104.4" y1="449" x2="114.6" y2="449" stroke="#000" stroke-width="1" /><line x1="104.4" y1="464.5" x2="114.6" y2="464.5" stroke="#000" stroke-width="1" /><line x1="104.4" y1="477.5" x2="114.6" y2="477.5" stroke="#000" stroke-width="1" /><line x1="104.4" y1="490" x2="114.6" y2="490" stroke="#000" stroke-width="1" /><line x1="104.4" y1="520" x2="114.6" y2="520" stroke="#000" stroke-width="1" /><line x1="104.4" y1="532.5" x2="114.6" y2="532.5" stroke="#000" stroke-width="1" /><line x1="104.4" y1="545.5" x2="114.6" y2="545.5" stroke="#000" stroke-width="1" /><line x1="104.4" y1="561" x2="114.6" y2="561" stroke="#000" stroke-width="1" /><rect x="250" y="440.1" width="7.5" height="129.4" rx="0" stroke="#000" stroke-width="1.1" fill="none" /><line x1="260" y1="440.1" x2="260" y2="569.5" stroke="#000" stroke-width="1" /><line x1="250" y1="449" x2="260" y2="449" stroke="#000" stroke-width="1" /><line x1="250" y1="457.3" x2="260" y2="457.3" stroke="#000" stroke-width="1" /><line x1="250" y1="476.9" x2="260" y2="476.9" stroke="#000" stroke-width="1" /><line x1="250" y1="537.2" x2="260" y2="537.2" stroke="#000" stroke-width="1" /><line x1="250" y1="561" x2="260" y2="561" stroke="#000" stroke-width="1" /><path d="M258,457.3 L309.5,457.3" stroke="#000" stroke-width="1.2" fill="none" /><path d="M262,449 L262,442.5 Q262,440.1 264.5,440.1 L279.7,440.1 Q282.2,440.1 282.2,442.5 L282.2,449" stroke="#000" stroke-width="1.2" fill="none" /><line x1="271" y1="440.5" x2="271" y2="449" stroke="#000" stroke-width="0.8" /><path d="M277.8,456.6 Q279,449 288,449 L298,449 Q305,449 307.6,457" stroke="#000" stroke-width="1.1" fill="none" /><line x1="292" y1="449" x2="292" y2="457.3" stroke="#000" stroke-width="0.9" /><rect x="309.5" y="456.6" width="7.6" height="10.2" rx="0" stroke="#000" stroke-width="1.1" fill="none" /><path d="M317.1,466.8 L317.1,458.3 L346,458.3 Q353.2,458.3 353.2,466.8" stroke="#000" stroke-width="1.2" fill="none" /><line x1="258" y1="468" x2="291.7" y2="468" stroke="#000" stroke-width="1.1" /><rect x="291.2" y="467.2" width="84.8" height="9.7" rx="0" stroke="#000" stroke-width="1.1" fill="none" /><line x1="291.2" y1="467.2" x2="376" y2="467.2" stroke="#000" stroke-width="2" /><path d="M268.3,520 L268.3,479 Q268.3,476.9 270.5,476.9 L397,476.9 Q399,476.9 399,479 L399,520" stroke="#000" stroke-width="1.3" fill="none" /><line x1="268.3" y1="476.9" x2="399" y2="476.9" stroke="#000" stroke-width="2" /><rect x="262.4" y="520" width="148" height="13.4" rx="0" stroke="#000" stroke-width="1.3" fill="none" /><line x1="262.4" y1="526" x2="410.4" y2="526" stroke="#000" stroke-width="1.6" /><rect x="263" y="511.4" width="13.7" height="8.6" rx="1" stroke="#000" stroke-width="1.2" fill="none" /><rect x="394.4" y="511.4" width="16" height="8.6" rx="1" stroke="#000" stroke-width="1.2" fill="none" /><line x1="407" y1="511.4" x2="407" y2="520" stroke="#000" stroke-width="1" /><path d="M306.4,520 L306.4,513.5 Q306.4,511.4 308.9,511.4 Q311.4,511.4 311.4,513.5 L311.4,520" stroke="#000" stroke-width="1.2" fill="none" /><path d="M359.6,520 L359.6,513.5 Q359.6,511.4 362.1,511.4 Q364.6,511.4 364.6,513.5 L364.6,520" stroke="#000" stroke-width="1.2" fill="none" /><rect x="262.4" y="533.4" width="14.3" height="3.7" rx="0" stroke="#000" stroke-width="1.1" fill="none" /><line x1="267.6" y1="533.4" x2="267.6" y2="537.1" stroke="#000" stroke-width="1" /><rect x="392.1" y="533.4" width="18.3" height="3.7" rx="0" stroke="#000" stroke-width="1.1" fill="none" /><line x1="405.3" y1="533.4" x2="405.3" y2="537.1" stroke="#000" stroke-width="1" /><rect x="308.1" y="533.4" width="6.5" height="3.7" rx="1" stroke="#000" stroke-width="1.1" fill="none" /><rect x="358.4" y="533.4" width="6.5" height="3.7" rx="1" stroke="#000" stroke-width="1.1" fill="none" /><path d="M271.6,557.1 L271.6,539.4 L401.9,539.4 L401.9,555.5 Q401.9,557.1 400,557.1 Z" stroke="#000" stroke-width="1.3" fill="none" /><line x1="271.6" y1="539.4" x2="401.9" y2="539.4" stroke="#000" stroke-width="2" /><line x1="274.4" y1="540" x2="274.4" y2="557.1" stroke="#000" stroke-width="1" /><line x1="397.9" y1="540" x2="397.9" y2="557.1" stroke="#000" stroke-width="1" /><rect x="271.8" y="540" width="2.5" height="17" fill="#999"/><rect x="398" y="540" width="3.7" height="17" fill="#999"/><line x1="271.6" y1="557.1" x2="401.9" y2="557.1" stroke="#000" stroke-width="1.8" /><rect x="302.8" y="546.9" width="67.4" height="5.9" rx="1.5" stroke="#000" stroke-width="1.3" fill="none" /><line x1="311" y1="545.4" x2="362.4" y2="545.4" stroke="#222" stroke-width="1.3" /><path d="M253.5,487.3 L251.5,487.3 Q248.3,487.3 248.3,491 L248.3,502.6 Q248.3,506.3 251.5,506.3 L253.5,506.3 Z" stroke="#000" stroke-width="1.3" fill="#fff" /><line x1="251" y1="487.5" x2="251" y2="506" stroke="#000" stroke-width="0.9" /><rect x="253.5" y="488.5" width="5.2" height="8.5" rx="2" stroke="#000" stroke-width="1.3" fill="#fff" /><rect x="253.5" y="498" width="5.2" height="8" rx="2" stroke="#000" stroke-width="1.3" fill="#fff" /><rect x="258.7" y="487.5" width="4.3" height="18.5" rx="0" stroke="#000" stroke-width="1.1" fill="#fff" /><rect x="263" y="489" width="3.5" height="5.5" rx="1.5" stroke="#000" stroke-width="1.1" fill="none" /><rect x="263" y="499.5" width="3.5" height="5.5" rx="1.5" stroke="#000" stroke-width="1.1" fill="none" /><rect x="259.7" y="481.1" width="7.6" height="5.3" rx="0" stroke="#000" stroke-width="1.1" fill="none" /><path d="M258,561.6 L300,561.6 Q305,561.6 307,558.8" stroke="#000" stroke-width="1.1" fill="none" /><path d="M262,561.6 L262,567 Q262,569.5 264.5,569.5 L279.7,569.5 Q282.2,569.5 282.2,567 L282.2,561.6" stroke="#000" stroke-width="1.2" fill="none" /><line x1="28.3" y1="250.8" x2="116.4" y2="250.8" stroke="#555" stroke-width="1" /><line x1="127.1" y1="250.8" x2="181.8" y2="250.8" stroke="#555" stroke-width="1" /><line x1="192.5" y1="250.8" x2="202.6" y2="250.8" stroke="#555" stroke-width="1" /><line x1="213.9" y1="250.8" x2="288.7" y2="250.8" stroke="#555" stroke-width="1" /><line x1="299.4" y1="250.8" x2="367.2" y2="250.8" stroke="#555" stroke-width="1" /><line x1="181.9" y1="157" x2="181.9" y2="192" stroke="#555" stroke-width="1" /><line x1="181.9" y1="224" x2="181.9" y2="322" stroke="#555" stroke-width="1" /><line x1="466.7" y1="251" x2="669.3" y2="251" stroke="#666" stroke-width="1.1" stroke-dasharray="5.5 2.6" stroke-dashoffset="2.9"/><line x1="569.5" y1="137" x2="569.5" y2="336" stroke="#e83c3c" stroke-width="1" stroke-dasharray="6 2.3"/><line x1="182.1" y1="400.1" x2="182.1" y2="604.5" stroke="#606060" stroke-width="1.1" stroke-dasharray="5.5 2.5" stroke-dashoffset="1.6"/><line x1="5.1" y1="505.1" x2="442.2" y2="505.1" stroke="#606060" stroke-width="1.1" stroke-dasharray="5.6 2.5" stroke-dashoffset="2.1"/></svg></body></html>
